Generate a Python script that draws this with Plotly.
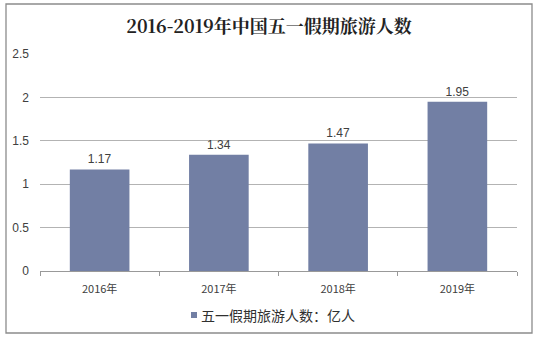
import plotly.graph_objects as go

years = ["2016年", "2017年", "2018年", "2019年"]
visitors = [1.17, 1.34, 1.47, 1.95]
y_ticks = [0, 0.5, 1, 1.5, 2, 2.5]
y_tick_text = ["0", "0.5", "1", "1.5", "2", "2.5"]
series_name = "五一假期旅游人数：亿人"

bar_color = "#727FA4"
grid_color = "#B3B3B3"
text_color = "#404040"
sans = "Liberation Sans, Arial, Noto Sans CJK SC, sans-serif"

fig = go.Figure()
fig.add_trace(go.Bar(
    x=years,
    y=visitors,
    name=series_name,
    marker=dict(color=bar_color, line=dict(width=0)),
    width=0.5,
    text=[f"{v:.2f}" for v in visitors],
    textposition="outside",
    textfont=dict(family=sans, size=12, color=text_color),
    cliponaxis=False,
    showlegend=False,
))

L, R, T, B = 40, 21, 54, 68
W, H = 538, 339
pw, ph = W - L - R, H - T - B


def px_x(x):
    return (x - L) / pw


def px_y(y):
    return (H - B - y) / ph


# outer frame around the whole chart
fig.add_shape(
    type="rect", xref="paper", yref="paper",
    x0=px_x(6), x1=px_x(532), y0=px_y(333), y1=px_y(4),
    line=dict(color="#8C8C8C", width=1.3),
    fillcolor="rgba(0,0,0,0)", layer="below",
)

# legend: small square key followed by the series name
fig.add_shape(
    type="rect", xref="paper", yref="paper",
    x0=px_x(191), x1=px_x(197), y0=px_y(318), y1=px_y(312),
    line=dict(width=0), fillcolor=bar_color,
)
fig.add_annotation(
    xref="paper", yref="paper", x=px_x(199), y=px_y(315),
    xanchor="left", yanchor="middle", showarrow=False,
    text=series_name,
    font=dict(family="Noto Sans CJK SC, sans-serif", size=14, color="#303030"),
)

fig.update_layout(
    width=W, height=H,
    margin=dict(l=L, r=R, t=T, b=B, autoexpand=False),
    paper_bgcolor="white", plot_bgcolor="white",
    title=dict(
        text="<b>2016-2019年中国五一假期旅游人数</b>",
        x=0.5, xanchor="center", y=1 - 27 / H, yanchor="middle",
        font=dict(family="Noto Serif CJK SC, Noto Sans CJK SC, serif", size=18, color="#222222"),
    ),
    showlegend=False,
    bargap=0.5,
    xaxis=dict(
        type="category",
        showline=True, linecolor="#999999", linewidth=1,
        ticks="outside", tickson="boundaries", ticklen=4, tickcolor="#999999",
        ticklabelstandoff=8,
        tickfont=dict(family="Noto Sans CJK SC, sans-serif", size=11, color=text_color),
        showgrid=False,
    ),
    yaxis=dict(
        range=[0, 2.5],
        tickvals=y_ticks, ticktext=y_tick_text,
        showgrid=True, gridcolor=grid_color, gridwidth=1,
        zeroline=False, showline=False, ticks="",
        ticklabelstandoff=10,
        tickfont=dict(family=sans, size=12, color=text_color),
    ),
)

fig.write_html("out.html")
